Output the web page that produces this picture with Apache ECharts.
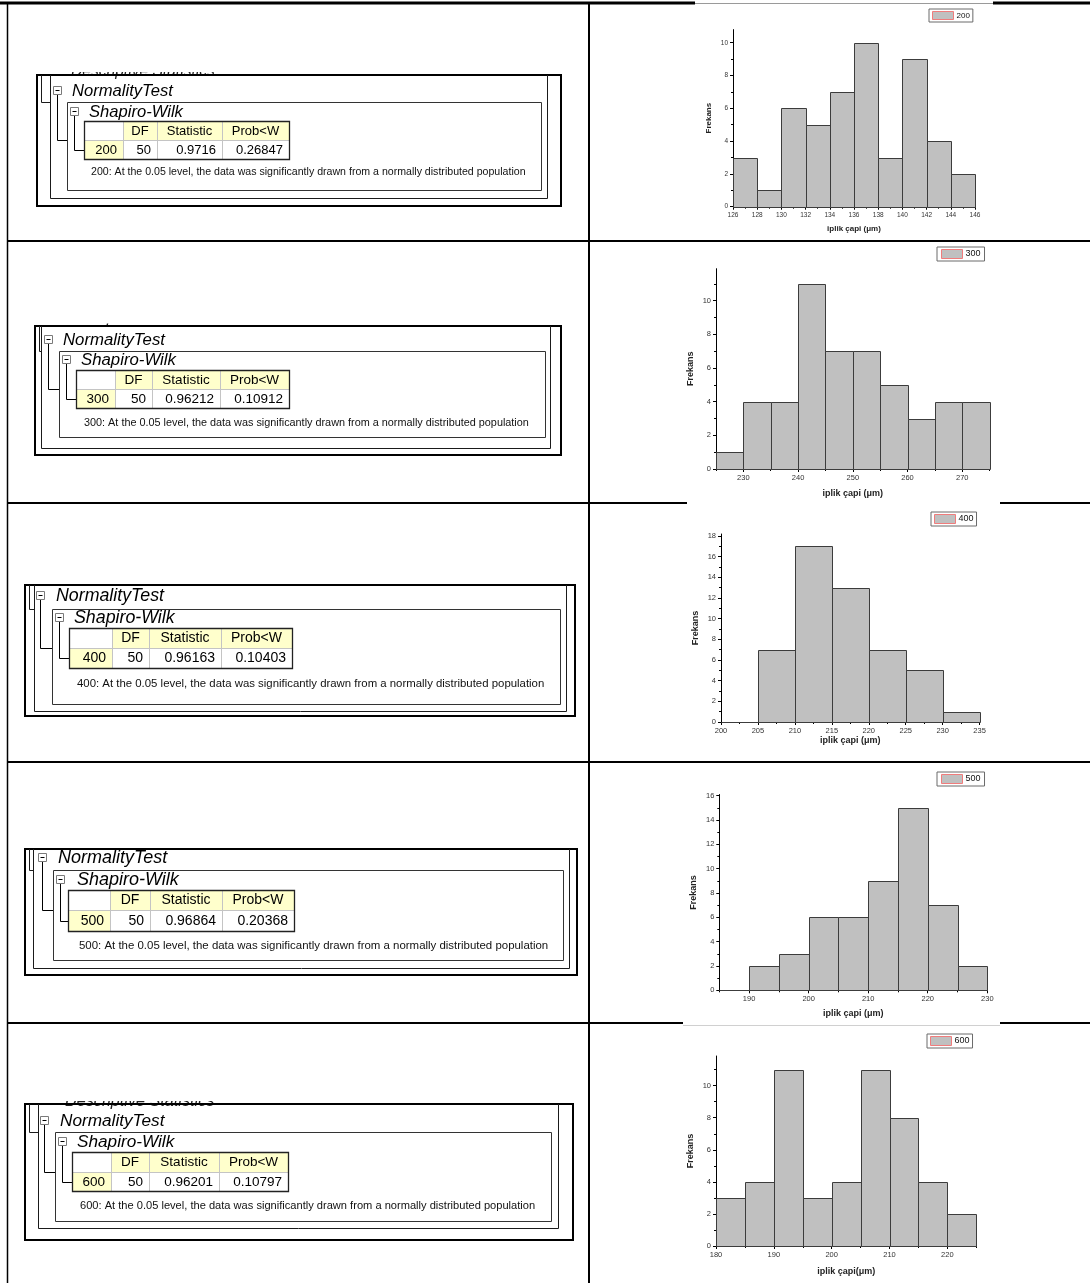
<!DOCTYPE html>
<html>
<head>
<meta charset="utf-8">
<script src="https://cdn.jsdelivr.net/npm/echarts@6/dist/echarts.min.js"></script>
<style>
  html, body { margin: 0; padding: 0; background: #fff; }
  #main { width: 1090px; height: 1283px; }
</style>
</head>
<body>
<div id="main"></div>
<script>
// ---- Shapiro-Wilk results, one row per group ----
const groups = ['200', '300', '400', '500', '600'];
const dfValues = [50, 50, 50, 50, 50];
const statisticValues = ['0.9716', '0.96212', '0.96163', '0.96864', '0.96201'];
const probValues = ['0.26847', '0.10912', '0.10403', '0.20368', '0.10797'];
const tableHeaders = ['DF', 'Statistic', 'Prob<W'];
const noteSuffix = ': At the 0.05 level, the data was significantly drawn from a normally distributed population';

// ---- histogram bins (yarn diameter, µm) ----
const binStart = [126, 225, 200, 185, 180];
const binWidth = [2, 5, 5, 5, 5];
const counts200 = [3, 1, 6, 5, 7, 10, 3, 9, 4, 2];
const counts300 = [1, 4, 4, 11, 7, 7, 5, 3, 4, 4];
const counts400 = [0, 7, 17, 13, 7, 5, 1];
const counts500 = [0, 2, 3, 6, 6, 9, 15, 7, 2];
const counts600 = [3, 4, 11, 3, 4, 11, 8, 4, 2];
const countsList = [counts200, counts300, counts400, counts500, counts600];

// ---- axis ranges and tick labels ----
const xMin = [126, 225, 200, 185, 180];
const xMax = [146, 275, 235, 230, 225];
const yMax = [10.8, 11.9, 18.2, 16.1, 11.85];
const xMajorTicks = [
  [126, 128, 130, 132, 134, 136, 138, 140, 142, 144, 146],
  [230, 240, 250, 260, 270],
  [200, 205, 210, 215, 220, 225, 230, 235],
  [190, 200, 210, 220, 230],
  [180, 190, 200, 210, 220]
];
const xMinorTicks = [
  [127, 129, 131, 133, 135, 137, 139, 141, 143, 145],
  [225, 235, 245, 255, 265, 275],
  [202.5, 207.5, 212.5, 217.5, 222.5, 227.5, 232.5],
  [185, 195, 205, 215, 225],
  [185, 195, 205, 215, 225]
];
const yMajorTicks = [
  [0, 2, 4, 6, 8, 10],
  [0, 2, 4, 6, 8, 10],
  [0, 2, 4, 6, 8, 10, 12, 14, 16, 18],
  [0, 2, 4, 6, 8, 10, 12, 14, 16],
  [0, 2, 4, 6, 8, 10]
];
const yMinorTicks = [
  [1, 3, 5, 7, 9],
  [1, 3, 5, 7, 9, 11],
  [1, 3, 5, 7, 9, 11, 13, 15, 17],
  [1, 3, 5, 7, 9, 11, 13, 15],
  [1, 3, 5, 7, 9, 11]
];
const xAxisNames = ['iplik çapi (μm)', 'iplik çapi (μm)', 'iplik çapi (μm)', 'iplik çapi (μm)', 'iplik çapi(μm)'];
const yAxisName = 'Frekans';

// ---- layout of the histogram plots (pixels) ----
const FONT = '"Liberation Sans", Arial, sans-serif';
const plotBoxes = [
  { left: 733, top: 29.6, width: 242, height: 177.1, tick: 6.5, name: 8, xGap: 18, yGap: 20 },
  { left: 716, top: 268.7, width: 273.6, height: 200.3, tick: 7.5, name: 9, xGap: 20, yGap: 21 },
  { left: 721, top: 534, width: 258.6, height: 188, tick: 7.5, name: 9, xGap: 13.5, yGap: 21 },
  { left: 719.3, top: 794.5, width: 268, height: 195.8, tick: 7.5, name: 9, xGap: 18.5, yGap: 21 },
  { left: 716, top: 1056, width: 260.3, height: 190, tick: 7.5, name: 9, xGap: 21.5, yGap: 21 }
];
const legendBoxes = [
  { left: 929, top: 9, iw: 21, ih: 8, fs: 8, pad: [2, 3] },
  { left: 937, top: 247, iw: 21, ih: 9, fs: 9, pad: [2, 4] },
  { left: 931, top: 512, iw: 21, ih: 9, fs: 9, pad: [2, 3] },
  { left: 937, top: 772, iw: 21, ih: 9, fs: 9, pad: [2, 4] },
  { left: 927, top: 1034, iw: 21, ih: 9, fs: 9, pad: [2, 3] }
];

// ---- layout of the result panels (pixels) ----
const panelBoxes = [
  { out: [37, 75, 561, 206], sec: [50, 547, 198], desc: [71, 80, 72],
    nt: [53, 86], ntX: 72, sw: [67, 102, 541, 190], swb: [70, 107], swX: 89,
    tbl: [84, 121, 289, 159, 140], cols: [123, 157, 222], note: [91, 172],
    tfs: 16.6, fs: 13, nfs: 10.6 },
  { out: [35, 326, 561, 455], sec: [41, 550, 448], desc: [62, 327, 323.5],
    nt: [44, 335], ntX: 63, sw: [59, 351, 545, 437], swb: [62, 355], swX: 81,
    tbl: [76, 370, 289, 408, 389], cols: [115, 152, 220], note: [84, 423],
    tfs: 16.8, fs: 13.5, nfs: 10.85 },
  { out: [25, 585, 575, 716], sec: [34, 566, 711], desc: null,
    nt: [36, 591], ntX: 56, sw: [52, 609, 560, 704], swb: [55, 613], swX: 74,
    tbl: [69, 628, 292, 668, 648], cols: [112, 149, 221], note: [77, 684],
    tfs: 17.8, fs: 14, nfs: 11.4 },
  { out: [25, 849, 577, 975], sec: [33, 569, 968], desc: null,
    nt: [38, 853], ntX: 58, sw: [53, 870, 563, 960], swb: [56, 875], swX: 77,
    tbl: [68, 890, 294, 931, 910], cols: [110, 150, 222], note: [79, 946],
    tfs: 18, fs: 14, nfs: 11.45 },
  { out: [25, 1104, 573, 1240], sec: [38, 558, 1228], desc: [65, 1109, 1101],
    nt: [40, 1116], ntX: 60, sw: [55, 1132, 551, 1221], swb: [58, 1137], swX: 77,
    tbl: [72, 1152, 288, 1191, 1172], cols: [111, 149, 219], note: [80, 1206],
    tfs: 17.2, fs: 13.5, nfs: 11.1 }
];

function seg(x1, y1, x2, y2, color, w) {
  return { type: 'line', silent: true, shape: { x1, y1, x2, y2 },
           style: { stroke: color, lineWidth: w } };
}
function box(x, y, w, h, fill, stroke, lw) {
  return { type: 'rect', silent: true, shape: { x, y, width: w, height: h },
           style: { fill: fill || 'none', stroke: stroke || 'none', lineWidth: lw || 0 } };
}
function label(text, x, y, size, opts) {
  opts = opts || {};
  return { type: 'text', silent: true, x, y,
           style: { text, fontSize: size, fontFamily: FONT, fontStyle: opts.italic ? 'italic' : 'normal',
                    fill: opts.color || '#000', align: opts.align || 'left',
                    verticalAlign: opts.valign || 'middle' } };
}
function expander(x, y) {
  return [
    box(x + 0.5, y + 0.5, 8, 8, '#fff', '#7a7a7a', 1),
    seg(x + 2.5, y + 4.5, x + 6.5, y + 4.5, '#000', 1)
  ];
}

function panelGraphics(i) {
  const p = panelBoxes[i];
  const els = [];
  const [oL, oT, oR, oB] = p.out;
  const [sL, sR, sB] = p.sec;
  const [wL, wT, wR, wB] = p.sw;
  const [tL, tT, tR, tB, tM] = p.tbl;
  const [c1, c2, c3] = p.cols;

  // heading of the collapsed node above, cut off by the window edge
  if (p.desc) {
    els.push(label('Descriptive Statistics', p.desc[0], p.desc[1], p.tfs - 1, { italic: true, valign: 'bottom', color: '#222' }));
    els.push(box(p.desc[0] - 4, p.desc[2] - 30, 200, 30, '#fff', null, 0));
  }
  // window frames
  els.push(box(oL, oT, oR - oL, oB - oT, null, '#000', 2));
  els.push({ type: 'polyline', silent: true,
             shape: { points: [[sL + 0.5, oT], [sL + 0.5, sB + 0.5], [sR + 0.5, sB + 0.5], [sR + 0.5, oT]] },
             style: { stroke: '#1a1a1a', lineWidth: 1, fill: 'none' } });
  els.push({ type: 'polyline', silent: true,
             shape: { points: [[oL + 4.5, oT], [oL + 4.5, wT + 0.5], [sL, wT + 0.5]] },
             style: { stroke: '#1a1a1a', lineWidth: 1, fill: 'none' } });

  // NormalityTest node
  els.push({ type: 'polyline', silent: true,
             shape: { points: [[p.nt[0] + 4.5, p.nt[1] + 9], [p.nt[0] + 4.5, tM + 0.5], [wL, tM + 0.5]] },
             style: { stroke: '#000', lineWidth: 1, fill: 'none' } });
  els.push(...expander(p.nt[0], p.nt[1]));
  els.push(label('NormalityTest', p.ntX, p.nt[1] + 5, p.tfs, { italic: true }));

  // Shapiro-Wilk node
  els.push(box(wL + 0.5, wT + 0.5, wR - wL, wB - wT, null, '#333', 1));
  const rowMid = Math.round((tM + tB) / 2) + 0.5;
  els.push({ type: 'polyline', silent: true,
             shape: { points: [[p.swb[0] + 4.5, p.swb[1] + 9], [p.swb[0] + 4.5, rowMid], [tL, rowMid]] },
             style: { stroke: '#000', lineWidth: 1, fill: 'none' } });
  els.push(...expander(p.swb[0], p.swb[1]));
  els.push(label('Shapiro-Wilk', p.swX, p.swb[1] + 5, p.tfs, { italic: true }));

  // result table
  const edges = [tL, c1, c2, c3, tR];
  const yellow = '#ffffcc';
  for (let k = 0; k < 4; k++) {
    els.push(box(edges[k], tT, edges[k + 1] - edges[k], tM - tT, k === 0 ? '#fff' : yellow, null, 0));
    els.push(box(edges[k], tM, edges[k + 1] - edges[k], tB - tM, k === 0 ? yellow : '#fff', null, 0));
  }
  els.push(seg(tL, tM + 0.5, tR, tM + 0.5, '#c4c4c4', 1));
  for (let k = 1; k < 4; k++) els.push(seg(edges[k] + 0.5, tT, edges[k] + 0.5, tB, '#c4c4c4', 1));
  els.push(box(tL + 0.5, tT + 0.5, tR - tL, tB - tT, null, '#222', 1.3));

  const hy = (tT + tM) / 2 + 0.5, dy = (tM + tB) / 2 + 0.5;
  tableHeaders.forEach((h, k) => {
    els.push(label(h, (edges[k + 1] + edges[k + 2]) / 2, hy, p.fs, { align: 'center' }));
  });
  const rowValues = [groups[i], String(dfValues[i]), statisticValues[i], probValues[i]];
  rowValues.forEach((v, k) => {
    els.push(label(v, edges[k + 1] - 6, dy, p.fs, { align: 'right' }));
  });

  // conclusion line
  els.push(label(groups[i] + noteSuffix, p.note[0], p.note[1], p.nfs, { color: '#111' }));
  return els;
}

// page table frame; the plot pictures sit over parts of the ruling
const frameGraphics = [
  seg(0, 3, 695, 3, '#000', 3),
  seg(695, 3.5, 993, 3.5, '#9a9a9a', 1),
  seg(993, 3, 1090, 3, '#000', 3),
  seg(7.5, 2, 7.5, 1283, '#000', 1.5),
  seg(589, 2, 589, 1283, '#000', 2),
  seg(7, 241, 1090, 241, '#000', 2),
  seg(7, 503, 687, 503, '#000', 2),
  seg(1000, 503, 1090, 503, '#000', 2),
  seg(7, 762, 1090, 762, '#000', 2),
  seg(7, 1023, 683, 1023, '#000', 2),
  seg(683, 1025.5, 1000, 1025.5, '#d0d0d0', 1),
  seg(1000, 1023, 1090, 1023, '#000', 2)
];

let graphics = frameGraphics.slice();
for (let i = 0; i < groups.length; i++) graphics = graphics.concat(panelGraphics(i));

// ---- histograms ----
const grids = [], xAxes = [], yAxes = [], series = [], legends = [];
plotBoxes.forEach((b) => {
  grids.push({ left: b.left, top: b.top, width: b.width, height: b.height, containLabel: false });
});
// main axes (labelled, major ticks)
plotBoxes.forEach((b, i) => {
  xAxes.push({
    type: 'value', gridIndex: i, position: 'bottom', min: xMin[i], max: xMax[i],
    axisLine: { show: true, onZero: false, lineStyle: { color: '#000', width: 1 } },
    axisTick: { show: true, customValues: xMajorTicks[i], length: 3, lineStyle: { color: '#000', width: 1 } },
    axisLabel: { show: true, customValues: xMajorTicks[i], fontSize: b.tick, fontFamily: FONT, color: '#333', margin: 5 },
    splitLine: { show: false },
    name: xAxisNames[i], nameLocation: 'middle', nameGap: b.xGap,
    nameTextStyle: { fontSize: b.name, fontFamily: FONT, fontWeight: 'bold', color: '#222' }
  });
  yAxes.push({
    type: 'value', gridIndex: i, position: 'left', min: 0, max: yMax[i],
    axisLine: { show: true, onZero: false, lineStyle: { color: '#000', width: 1 } },
    axisTick: { show: true, customValues: yMajorTicks[i], length: 3, lineStyle: { color: '#000', width: 1 } },
    axisLabel: { show: true, customValues: yMajorTicks[i], fontSize: b.tick, fontFamily: FONT, color: '#333', margin: 5 },
    splitLine: { show: false },
    name: yAxisName, nameLocation: 'middle', nameGap: b.yGap,
    nameTextStyle: { fontSize: b.name, fontFamily: FONT, fontWeight: 'bold', color: '#222' }
  });
});
// companion axes carrying the minor ticks
plotBoxes.forEach((b, i) => {
  xAxes.push({
    type: 'value', gridIndex: i, position: 'bottom', offset: 0, min: xMin[i], max: xMax[i],
    axisLine: { show: false }, axisLabel: { show: false }, splitLine: { show: false },
    axisTick: { show: true, customValues: xMinorTicks[i], length: 2, lineStyle: { color: '#000', width: 1 } }
  });
  yAxes.push({
    type: 'value', gridIndex: i, position: 'left', offset: 0, min: 0, max: yMax[i],
    axisLine: { show: false }, axisLabel: { show: false }, splitLine: { show: false },
    axisTick: { show: true, customValues: yMinorTicks[i], length: 2, lineStyle: { color: '#000', width: 1 } }
  });
});

countsList.forEach((counts, i) => {
  series.push({
    type: 'custom', name: groups[i], xAxisIndex: i, yAxisIndex: i,
    itemStyle: { color: '#c0c0c0' },
    data: counts.map((c, k) => [binStart[i] + k * binWidth[i], binStart[i] + (k + 1) * binWidth[i], c]),
    encode: { x: [0, 1], y: 2 },
    renderItem: function (params, api) {
      const a = api.coord([api.value(0), 0]);
      const b = api.coord([api.value(1), api.value(2)]);
      return {
        type: 'rect',
        shape: { x: Math.round(a[0]) + 0.5, y: Math.round(b[1]) + 0.5,
                 width: Math.round(b[0]) - Math.round(a[0]), height: Math.round(a[1]) - Math.round(b[1]) },
        style: { fill: '#c0c0c0', stroke: '#3c3c3c', lineWidth: 1 }
      };
    }
  });
  const lb = legendBoxes[i];
  legends.push({
    data: [groups[i]], left: lb.left, top: lb.top, orient: 'horizontal',
    icon: 'rect', itemWidth: lb.iw, itemHeight: lb.ih, itemGap: 0, padding: lb.pad,
    backgroundColor: '#fff', borderColor: '#6a6a6a', borderWidth: 1,
    itemStyle: { color: '#c0c0c0', borderColor: '#f07c7c', borderWidth: 1 },
    textStyle: { fontSize: lb.fs, fontFamily: FONT, color: '#111', padding: [0, 0, 0, -2] },
    selectedMode: false
  });
});

const chart = echarts.init(document.getElementById('main'), null, { renderer: 'canvas', width: 1090, height: 1283 });
chart.setOption({
  animation: false,
  backgroundColor: '#fff',
  grid: grids,
  xAxis: xAxes,
  yAxis: yAxes,
  legend: legends,
  series: series,
  graphic: { elements: graphics }
});
</script>
</body>
</html>
